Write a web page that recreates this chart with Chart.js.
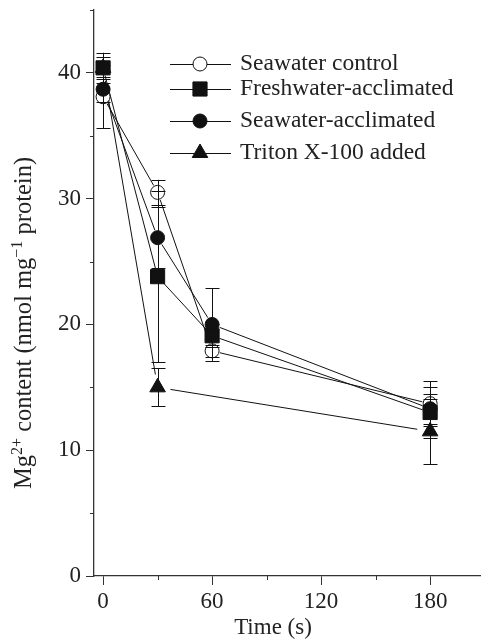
<!DOCTYPE html>
<html>
<head>
<meta charset="utf-8">
<script src="https://cdn.jsdelivr.net/npm/chart.js@4/dist/chart.umd.min.js"></script>
<style>
body { margin: 0; background: #fff; }
canvas { display: block; }
</style>
</head>
<body>
<canvas id="chart" width="481" height="640"></canvas>
<script>
// Time points (s)
const times = [0, 30, 60, 180];
const tritonTimes = [0, 30, 180];

// Mg2+ content (nmol mg-1 protein), mean and error
const seawaterControl = [38.1, 30.5, 17.9, 13.7];
const seawaterControlErr = [2.5, 1.0, 0.5, 1.8];
const freshwaterAccl = [40.4, 23.8, 19.1, 13.0];
const freshwaterAcclErr = [1.2, 6.8, 0.9, 2.0];
const seawaterAccl = [38.7, 26.9, 20.0, 13.3];
const seawaterAcclErr = [1.0, 2.4, 2.9, 1.2];
const triton = [40.4, 15.0, 11.5];
const tritonErr = [0.9, 1.5, 2.6];

const seriesNames = ['Seawater control', 'Freshwater-acclimated', 'Seawater-acclimated', 'Triton X-100 added'];

const xTicks = [0, 60, 120, 180];
const xMinorTicks = [30, 90, 150];
const yTicks = [0, 10, 20, 30, 40];
const yMinorTicks = [5, 15, 25, 35, 45];

const serif = '"Liberation Serif", "Times New Roman", serif';
const ink = '#111';
const axisColor = '#333';

function toPoints(xs, ys) {
    return xs.map((x, i) => ({ x: x, y: ys[i] }));
}

function makeSet(label, xs, ys, err, style, radius, fill, order, gap) {
    return {
        label: label,
        data: toPoints(xs, ys),
        err: err,
        gap: gap,
        showLine: false,
        pointStyle: style,
        pointRadius: radius,
        pointHoverRadius: radius,
        pointBackgroundColor: fill,
        pointBorderColor: ink,
        pointBorderWidth: 1,
        borderColor: ink,
        backgroundColor: fill,
        order: order
    };
}

const datasets = [
    makeSet(seriesNames[0], times, seawaterControl, seawaterControlErr, 'circle', 7, '#fff', 4, 8),
    makeSet(seriesNames[1], times, freshwaterAccl, freshwaterAcclErr, 'rect', 10, ink, 1, 8),
    makeSet(seriesNames[2], times, seawaterAccl, seawaterAcclErr, 'circle', 7, ink, 2, 8),
    makeSet(seriesNames[3], tritonTimes, triton, tritonErr, 'triangle', 9, ink, 3, 13)
];

// Lines with a gap at the symbols, error bars, minor ticks, titles and legend
const extras = {
    id: 'extras',
    beforeDatasetsDraw(chart) {
        const ctx = chart.ctx, xs = chart.scales.x, ys = chart.scales.y;
        ctx.save();
        ctx.strokeStyle = ink;
        ctx.lineWidth = 1;
        chart.data.datasets.forEach(ds => {
            const pts = ds.data.map(p => ({ x: xs.getPixelForValue(p.x), y: ys.getPixelForValue(p.y) }));
            for (let i = 0; i < pts.length - 1; i++) {
                const a = pts[i], b = pts[i + 1];
                const len = Math.hypot(b.x - a.x, b.y - a.y);
                const ux = (b.x - a.x) / len, uy = (b.y - a.y) / len;
                ctx.beginPath();
                ctx.moveTo(a.x + ux * ds.gap, a.y + uy * ds.gap);
                ctx.lineTo(b.x - ux * ds.gap, b.y - uy * ds.gap);
                ctx.stroke();
            }
        });
        ctx.restore();
    },
    afterDatasetsDraw(chart) {
        const ctx = chart.ctx, xs = chart.scales.x, ys = chart.scales.y;
        ctx.save();
        ctx.strokeStyle = ink;
        ctx.lineWidth = 1;
        chart.data.datasets.forEach(ds => {
            ds.data.forEach((p, i) => {
                const px = Math.round(xs.getPixelForValue(p.x)) + 0.5;
                const top = ys.getPixelForValue(p.y + ds.err[i]);
                const bot = ys.getPixelForValue(p.y - ds.err[i]);
                ctx.beginPath();
                ctx.moveTo(px, top); ctx.lineTo(px, bot);
                ctx.moveTo(px - 7, Math.round(top) + 0.5); ctx.lineTo(px + 7, Math.round(top) + 0.5);
                ctx.moveTo(px - 7, Math.round(bot) + 0.5); ctx.lineTo(px + 7, Math.round(bot) + 0.5);
                ctx.stroke();
            });
        });
        ctx.restore();
    },
    afterDraw(chart) {
        const ctx = chart.ctx, xs = chart.scales.x, ys = chart.scales.y;
        const area = chart.chartArea;
        ctx.save();

        // minor ticks
        ctx.strokeStyle = axisColor;
        ctx.lineWidth = 1;
        ctx.beginPath();
        xMinorTicks.forEach(v => {
            const px = Math.round(xs.getPixelForValue(v)) + 0.5;
            ctx.moveTo(px, area.bottom); ctx.lineTo(px, area.bottom + 4);
        });
        yMinorTicks.forEach(v => {
            const py = Math.round(ys.getPixelForValue(v)) + 0.5;
            ctx.moveTo(area.left, py); ctx.lineTo(area.left - 4, py);
        });
        ctx.stroke();

        // x title
        ctx.fillStyle = '#222';
        ctx.font = '23px ' + serif;
        ctx.textAlign = 'center';
        ctx.textBaseline = 'alphabetic';
        ctx.fillText('Time (s)', 273, 634);

        // y title with superscripts
        const parts = [
            ['Mg', false], ['2+', true], [' content (nmol mg', false], ['\u22121', true], [' protein)', false]
        ];
        const bigFont = '24.5px ' + serif, supFont = '16px ' + serif;
        let total = 0;
        parts.forEach(pt => { ctx.font = pt[1] ? supFont : bigFont; total += ctx.measureText(pt[0]).width; });
        ctx.translate(31, 323);
        ctx.rotate(-Math.PI / 2);
        ctx.textAlign = 'left';
        let cx = -total / 2;
        parts.forEach(pt => {
            ctx.font = pt[1] ? supFont : bigFont;
            ctx.fillText(pt[0], cx, pt[1] ? -9 : 0);
            cx += ctx.measureText(pt[0]).width;
        });
        ctx.setTransform(1, 0, 0, 1, 0, 0);

        // legend
        const rowsY = [64, 89, 121, 153];
        chart.data.datasets.forEach((ds, i) => {
            const y = rowsY[i];
            ctx.strokeStyle = ink;
            ctx.lineWidth = 1;
            ctx.beginPath();
            ctx.moveTo(170, y + 0.5); ctx.lineTo(231, y + 0.5);
            ctx.stroke();
            ctx.fillStyle = ds.pointBackgroundColor;
            Chart.helpers.drawPoint(ctx, { pointStyle: ds.pointStyle, radius: ds.pointRadius, rotation: 0, borderWidth: 1 }, 200, y);
            ctx.fillStyle = '#222';
            ctx.font = '23.5px ' + serif;
            ctx.textAlign = 'left';
            ctx.fillText(ds.label, 240, y + 6);
        });
        ctx.restore();
    }
};

function noPad(s) {
    s.paddingLeft = 0; s.paddingRight = 0; s.paddingTop = 0; s.paddingBottom = 0;
}

const ctx = document.getElementById('chart').getContext('2d');
const myChart = new Chart(ctx, {
    type: 'scatter',
    data: { datasets: datasets },
    options: {
        responsive: false,
        animation: false,
        devicePixelRatio: 1,
        layout: { autoPadding: false, padding: { top: 10, right: 0, left: 0, bottom: 0 } },
        plugins: {
            legend: { display: false },
            tooltip: { enabled: false }
        },
        scales: {
            x: {
                type: 'linear',
                min: -5,
                max: 208,
                afterBuildTicks: s => { s.ticks = xTicks.map(v => ({ value: v })); },
                afterFit: s => { s.height = 64; noPad(s); },
                border: { color: axisColor, width: 1.3 },
                grid: { drawOnChartArea: false, tickLength: 9, color: axisColor },
                ticks: { font: { family: serif, size: 23 }, color: '#222', padding: 3, maxRotation: 0 }
            },
            y: {
                type: 'linear',
                min: 0,
                max: 45,
                afterBuildTicks: s => { s.ticks = yTicks.map(v => ({ value: v })); },
                afterFit: s => { s.width = 94; noPad(s); },
                border: { color: axisColor, width: 1.3 },
                grid: { drawOnChartArea: false, tickLength: 8, color: axisColor },
                ticks: { font: { family: serif, size: 23 }, color: '#222', padding: 5 }
            }
        }
    },
    plugins: [extras]
});
</script>
</body>
</html>
